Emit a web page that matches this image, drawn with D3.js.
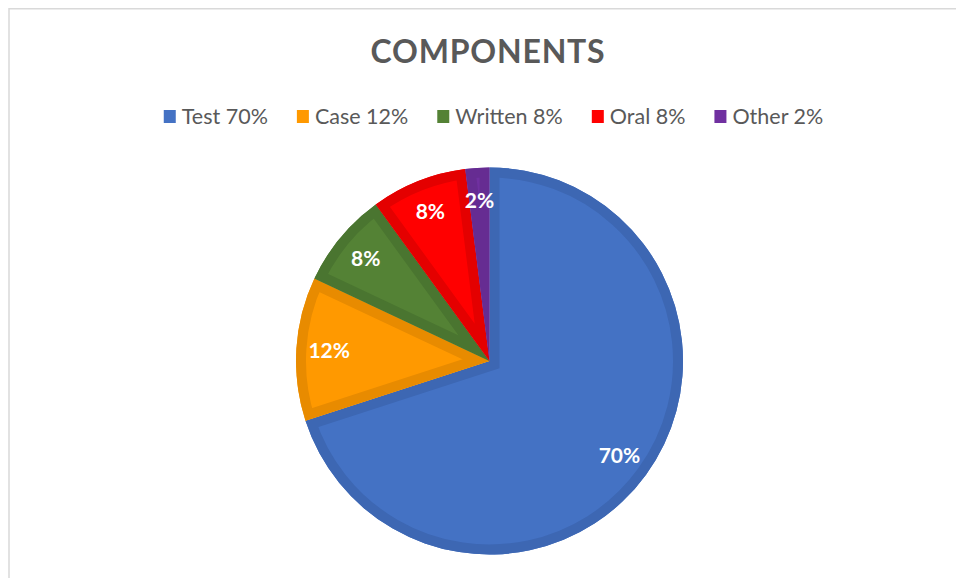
<!DOCTYPE html>
<html>
<head>
<meta charset="utf-8">
<script src="https://cdn.jsdelivr.net/npm/d3@7"></script>
<style>
  body { margin: 0; background: #fff; }
  svg { display: block; font-family: Lato, "Open Sans", sans-serif; }
</style>
</head>
<body>
<div id="chart"></div>
<script>
const width = 956, height = 578;

const categories = ["Test", "Case", "Written", "Oral", "Other"];
const values = [70, 12, 8, 8, 2];
const fills = ["#4472C4", "#FF9900", "#548235", "#FF0000", "#7030A0"];
const bands = ["#3D67B3", "#E88B00", "#4A7530", "#E40000", "#662C92"];

const data = categories.map((c, i) => ({name: c, value: values[i], i: i}));

const svg = d3.select("#chart")
  .append("svg")
  .attr("width", width)
  .attr("height", height);

// chart area frame
svg.append("rect")
  .attr("x", 9).attr("y", 8.75)
  .attr("width", 1000).attr("height", 1000)
  .attr("fill", "none")
  .attr("stroke", "#d9d9d9")
  .attr("stroke-width", 1.5);

svg.append("text")
  .attr("x", 488)
  .attr("y", 63)
  .attr("text-anchor", "middle")
  .attr("fill", "#595959")
  .style("font-size", "32px")
  .style("font-weight", "bold")
  .style("letter-spacing", "0.8px")
  .text("COMPONENTS");

// legend
const legend = svg.append("g").style("font-size", "21.5px");
const items = legend.selectAll("g")
  .data(data)
  .join("g");
items.append("rect")
  .attr("width", 12).attr("height", 13)
  .attr("y", 110)
  .attr("fill", d => fills[d.i]);
items.append("text")
  .attr("x", 18)
  .attr("y", 123.5)
  .attr("fill", "#595959")
  .text(d => d.name + " " + d.value + "%");
const widths = items.nodes().map(n => n.querySelector("text").getComputedTextLength() + 18);
const gap = 29;
const total = d3.sum(widths) + gap * (widths.length - 1);
let xPos = 493.5 - total / 2;
items.attr("transform", (d, i) => {
  const t = `translate(${xPos},0)`;
  xPos += widths[i] + gap;
  return t;
});

// pie
const cx = 489.5, cy = 361, r = 193.5;
const pie = d3.pie().sort(null).value(d => d.value);
const arc = d3.arc().innerRadius(0).outerRadius(r);
const labelArc = d3.arc().innerRadius(r * 0.83).outerRadius(r * 0.83);

const g = svg.append("g").attr("transform", `translate(${cx},${cy})`);
const arcs = pie(data);

const defs = svg.append("defs");
defs.selectAll("clipPath")
  .data(arcs)
  .join("clipPath")
  .attr("id", d => "clip" + d.data.i)
  .append("path")
  .attr("d", arc);

const slice = g.selectAll("g.slice")
  .data(arcs)
  .join("g")
  .attr("class", "slice");

slice.append("path")
  .attr("d", arc)
  .attr("fill", d => fills[d.data.i]);

slice.append("path")
  .attr("d", arc)
  .attr("fill", "none")
  .attr("stroke", d => bands[d.data.i])
  .attr("stroke-width", 20)
  .attr("stroke-linejoin", "miter")
  .attr("clip-path", d => `url(#clip${d.data.i})`);

g.selectAll("text.lbl")
  .data(arcs)
  .join("text")
  .attr("class", "lbl")
  .attr("transform", d => `translate(${labelArc.centroid(d)})`)
  .attr("text-anchor", "middle")
  .attr("dy", "0.36em")
  .attr("fill", "#fff")
  .style("font-size", "21px")
  .style("font-weight", "bold")
  .text(d => d.data.value + "%");
</script>
</body>
</html>
